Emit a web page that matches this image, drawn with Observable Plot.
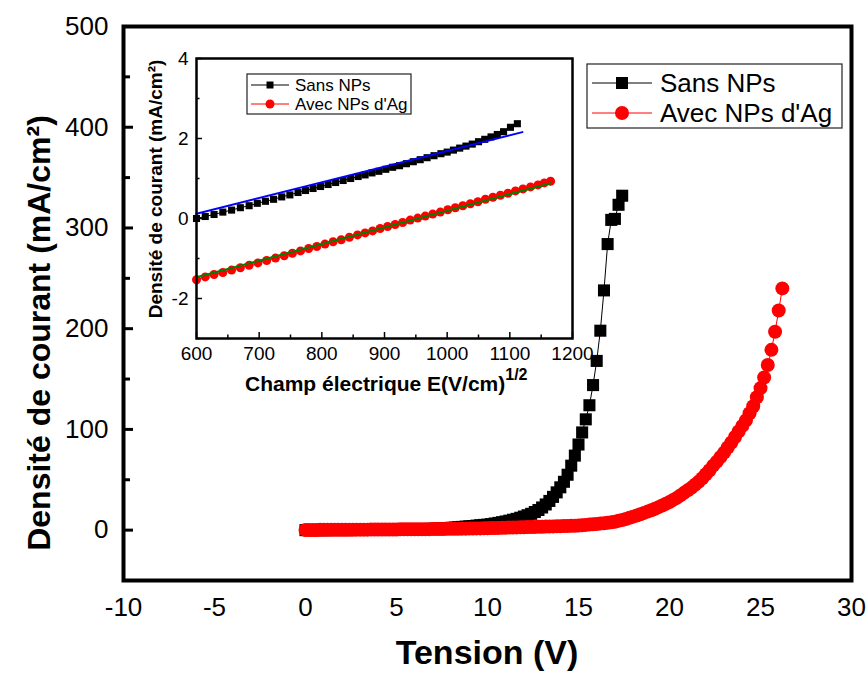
<!DOCTYPE html>
<html><head><meta charset="utf-8">
<script src="https://cdn.jsdelivr.net/npm/d3@7"></script>
<script src="https://cdn.jsdelivr.net/npm/@observablehq/plot@0.6"></script>
<style>
body{margin:0;background:#fff;}
#wrap{position:relative;width:867px;height:673px;background:#fff;}
#wrap svg{position:absolute;left:0;top:0;}
</style></head><body><div id="wrap"></div>
<script>
const FONT = "'Liberation Sans', Arial, Helvetica, sans-serif";

// ---------- main chart data : Tension (V) -> Densité de courant (mA/cm²) ----------
const sansV = [0,0.2,0.4,0.6,0.8,1,1.2,1.4,1.6,1.8,2,2.2,2.4,2.6,2.8,3,3.2,3.4,3.6,3.8,4,4.2,4.4,4.6,4.8,
  5,5.2,5.4,5.6,5.8,6,6.2,6.4,6.6,6.8,7,7.2,7.4,7.6,7.8,8,8.2,8.4,8.6,8.8,9,9.2,9.4,9.6,9.8,
  10,10.2,10.4,10.6,10.8,11,11.2,11.4,11.6,11.8,12,12.2,12.4,12.6,12.8,13,13.2,13.4,13.6,13.8,14,14.2,14.4,14.6,14.8,
  15,15.2,15.4,15.6,15.8,16,16.2,16.4,16.6,16.8,17,17.2,17.4];
const sansJ = [0,0,0,0,0,0,0,0.1,0.1,0.1,0.1,0.1,0.1,0.2,0.2,0.2,0.2,0.2,0.3,0.3,0.3,0.3,0.4,0.4,0.4,
  0.5,0.5,0.6,0.6,0.7,0.8,0.9,1.0,1.1,1.2,1.3,1.5,1.7,1.9,2.1,2.3,2.6,2.9,3.2,3.5,3.8,4.1,4.5,4.9,5.2,
  5.5,6.0,6.6,7.2,7.9,8.6,9.4,10.3,11.2,12.3,13.5,14.8,16.2,18.0,20.0,22.5,25.5,29,33,37.5,42.5,48,55,64,74,
  85,97,110,124,144,168,198,238,284,308,309,323,332];
const avecV = [0,0.2,0.4,0.6,0.8,1,1.2,1.4,1.6,1.8,2,2.2,2.4,2.6,2.8,3,3.2,3.4,3.6,3.8,4,4.2,4.4,4.6,4.8,
  5,5.2,5.4,5.6,5.8,6,6.2,6.4,6.6,6.8,7,7.2,7.4,7.6,7.8,8,8.2,8.4,8.6,8.8,9,9.2,9.4,9.6,9.8,
  10,10.2,10.4,10.6,10.8,11,11.2,11.4,11.6,11.8,12,12.2,12.4,12.6,12.8,13,13.2,13.4,13.6,13.8,14,14.2,14.4,14.6,14.8,
  15,15.2,15.4,15.6,15.8,16,16.2,16.4,16.6,16.8,17,17.2,17.4,17.6,17.8,18,18.2,18.4,18.6,18.8,19,19.2,19.4,19.6,19.8,
  20,20.2,20.4,20.6,20.8,21,21.2,21.4,21.6,21.8,22,22.2,22.4,22.6,22.8,23,23.2,23.4,23.6,23.8,24,24.2,24.4,24.6,24.8,
  25,25.2,25.4,25.6,25.8,26,26.2];
const avecJ = [0.2,0.2,0.2,0.2,0.3,0.3,0.3,0.3,0.3,0.4,0.4,0.4,0.4,0.4,0.5,0.5,0.5,0.5,0.6,0.6,0.6,0.6,0.7,0.7,0.7,
  0.7,0.8,0.8,0.8,0.9,0.9,0.9,1.0,1.0,1.0,1.1,1.1,1.2,1.2,1.3,1.3,1.4,1.4,1.5,1.5,1.6,1.6,1.7,1.7,1.8,
  1.9,2.0,2.1,2.2,2.3,2.4,2.5,2.6,2.7,2.8,2.9,3.0,3.1,3.2,3.3,3.4,3.5,3.6,3.7,3.8,3.9,4.0,4.1,4.3,4.4,
  4.6,4.9,5.2,5.5,5.8,6.1,6.5,6.9,7.3,7.8,8.4,9.2,10.1,11.1,12.2,13.4,14.6,15.8,17.1,18.4,19.8,21.2,22.8,24.4,26.2,
  28,30,32,34.5,37,39.5,42,45,48,51.5,55.5,59.5,64,68,72.5,77,82,87,92.5,98,103.5,109,116,123,132,
  141,151.5,164,179,197,218,240];
const mainXTicks = [-10,-5,0,5,10,15,20,25,30];
const mainYTicks = [0,100,200,300,400,500];
const mainYMinor = [50,150,250,350,450];

// ---------- inset data : Champ électrique E(V/cm)^1/2 -> ln(J) ----------
const insetSansX = [600,614,628,642,656,670,684,697,710,723,736,749,762,774,786,798,810,822,834,846,858,869,880,891,902,913,924,935,946,957,968,979,990,1000,1010,1020,1030,1040,1050,1060,1070,1080,1090,1101,1112];
const insetSansY = [0.00,0.05,0.10,0.16,0.21,0.27,0.32,0.38,0.43,0.48,0.54,0.59,0.65,0.70,0.75,0.80,0.85,0.90,0.95,1.00,1.05,1.09,1.14,1.18,1.23,1.28,1.32,1.37,1.42,1.47,1.52,1.57,1.62,1.66,1.71,1.76,1.81,1.86,1.92,1.98,2.04,2.10,2.17,2.28,2.37];
const insetAvecX = [600,614,628,642,656,670,684,698,712,726,740,753,766,779,792,805,818,831,844,857,869,881,893,905,917,929,941,953,965,977,989,1001,1013,1025,1037,1049,1061,1073,1085,1097,1109,1121,1133,1145,1155,1165];
const insetAvecY = [-1.53,-1.46,-1.40,-1.35,-1.29,-1.23,-1.17,-1.11,-1.05,-0.99,-0.93,-0.87,-0.81,-0.75,-0.70,-0.64,-0.58,-0.53,-0.47,-0.41,-0.36,-0.31,-0.25,-0.20,-0.15,-0.10,-0.04,0.01,0.06,0.11,0.16,0.22,0.27,0.32,0.37,0.42,0.48,0.53,0.58,0.63,0.69,0.74,0.79,0.84,0.89,0.93];
const fitSansX = [600,1120], fitSansY = [0.12,2.16];
const fitAvecX = [600,1165], fitAvecY = [-1.47,0.88];
const insetXTicks = [600,700,800,900,1000,1100,1200];
const insetXMinor = [650,750,850,950,1050,1150];
const insetYTicks = [-2,0,2,4];
const insetYMinor = [-3,-1,1,3];

const sans = sansV.map((v,i)=>({v, j:sansJ[i]}));
const avec = avecV.map((v,i)=>({v, j:avecJ[i]}));
const iSans = insetSansX.map((x,i)=>({x, y:insetSansY[i]}));
const iAvec = insetAvecX.map((x,i)=>({x, y:insetAvecY[i]}));
const fSans = fitSansX.map((x,i)=>({x, y:fitSansY[i]}));
const fAvec = fitAvecX.map((x,i)=>({x, y:fitAvecY[i]}));

const wrap = document.getElementById("wrap");

// ---------- main plot ----------
const mL=123, mR=16, mT=26, mB=93, W=867, H=673;
const fw = W-mL-mR;
const main = Plot.plot({
  width: W, height: H,
  marginLeft: mL, marginRight: mR, marginTop: mT, marginBottom: mB,
  style: {fontFamily: FONT, background: "transparent", overflow: "visible", color: "black"},
  x: {domain: [-10, 30]},
  y: {domain: [-50, 500]},
  marks: [
    Plot.axisX({ticks: mainXTicks, tickSize: 0, tickPadding: 17, fontSize: 26, tickFormat: d=>String(d), label: null}),
    Plot.axisY({ticks: mainYTicks, tickSize: 0, tickPadding: 15, fontSize: 26, tickFormat: d=>String(d), label: null}),
    Plot.tickY(mainYTicks, {y: d=>d, insetRight: fw-10, strokeWidth: 3}),
    Plot.tickY(mainYMinor, {y: d=>d, insetRight: fw-7, strokeWidth: 3}),
    Plot.line(sans, {x:"v", y:"j", stroke:"black", strokeWidth:1}),
    Plot.dot(sans, {x:"v", y:"j", symbol:"square", r:6.8, fill:"black"}),
    Plot.line(avec, {x:"v", y:"j", stroke:"red", strokeWidth:1}),
    Plot.dot(avec, {x:"v", y:"j", r:7, fill:"red"}),
    Plot.frame({strokeWidth: 4})
  ]
});
wrap.appendChild(main);

// ---------- inset plot ----------
const iLeft=140, iTop=40, iL=56, iT=18, iR=10, iB=60;
const iFW = 572-196, iFH = 338-58;
const inset = Plot.plot({
  width: iL+iFW+iR, height: iT+iFH+iB,
  marginLeft: iL, marginRight: iR, marginTop: iT, marginBottom: iB,
  style: {fontFamily: FONT, background: "transparent", overflow: "visible", color: "black"},
  x: {domain: [600, 1200]},
  y: {domain: [-3, 4]},
  marks: [
    Plot.axisX({ticks: insetXTicks, tickSize: 0, tickPadding: 8, fontSize: 19, tickFormat: d=>String(d), label: null}),
    Plot.axisY({ticks: insetYTicks, tickSize: 0, tickPadding: 8, fontSize: 19, tickFormat: d=>String(d), label: null}),
    Plot.tickX(insetXTicks, {x: d=>d, insetTop: iFH-6, strokeWidth: 1.5}),
    Plot.tickX(insetXMinor, {x: d=>d, insetTop: iFH-3.5, strokeWidth: 1.5}),
    Plot.tickY(insetYTicks, {y: d=>d, insetRight: iFW-6, strokeWidth: 1.5}),
    Plot.tickY(insetYMinor, {y: d=>d, insetRight: iFW-3.5, strokeWidth: 1.5}),
    Plot.line(iSans, {x:"x", y:"y", stroke:"black", strokeWidth:1}),
    Plot.dot(iSans, {x:"x", y:"y", symbol:"square", r:4, fill:"black"}),
    Plot.line(fSans, {x:"x", y:"y", stroke:"#0000ff", strokeWidth:2}),
    Plot.line(iAvec, {x:"x", y:"y", stroke:"red", strokeWidth:1}),
    Plot.dot(iAvec, {x:"x", y:"y", r:4.5, fill:"red"}),
    Plot.line(fAvec, {x:"x", y:"y", stroke:"#008000", strokeWidth:2}),
    Plot.frame({strokeWidth: 2.5})
  ]
});
inset.style.left = iLeft + "px";
inset.style.top = iTop + "px";
wrap.appendChild(inset);

// ---------- titles & legends overlay ----------
const ov = d3.select(wrap).append("svg")
  .attr("width", W).attr("height", H)
  .style("pointer-events", "none")
  .attr("font-family", FONT);

ov.append("text").attr("transform", "translate(39,333) rotate(-90)")
  .attr("text-anchor", "middle").attr("dominant-baseline", "central")
  .attr("font-size", 32).attr("font-weight", 700)
  .text("Densité de courant (mA/cm²)");
ov.append("text").attr("x", 487).attr("y", 664)
  .attr("text-anchor", "middle").attr("font-size", 34).attr("font-weight", 700)
  .text("Tension (V)");

ov.append("text").attr("transform", "translate(155,189) rotate(-90)")
  .attr("text-anchor", "middle").attr("dominant-baseline", "central")
  .attr("font-size", 19).attr("font-weight", 700)
  .text("Densité de courant (mA/cm²)");
const xl = ov.append("text").attr("x", 245).attr("y", 391)
  .attr("font-size", 21).attr("font-weight", 700);
xl.append("tspan").text("Champ électrique E(V/cm)");
xl.append("tspan").attr("dy", -11).attr("font-size", 16).text("1/2");

function legend(x, y, w, h, rows, lx0, lx1, tx, fs, sq, cr) {
  ov.append("rect").attr("x", x).attr("y", y).attr("width", w).attr("height", h)
    .attr("fill", "white").attr("stroke", "#222").attr("stroke-width", 1.2);
  rows.forEach(r => {
    ov.append("line").attr("x1", lx0).attr("x2", lx1).attr("y1", r.y).attr("y2", r.y)
      .attr("stroke", r.color).attr("stroke-width", 1);
    const mx = (lx0+lx1)/2;
    if (r.shape === "square") {
      ov.append("rect").attr("x", mx-sq/2).attr("y", r.y-sq/2).attr("width", sq).attr("height", sq).attr("fill", r.color);
    } else {
      ov.append("circle").attr("cx", mx).attr("cy", r.y).attr("r", cr).attr("fill", r.color);
    }
    ov.append("text").attr("x", tx).attr("y", r.y).attr("dominant-baseline", "central")
      .attr("font-size", fs).text(r.label);
  });
}
legend(587, 64, 255, 64,
  [{y:83, color:"black", shape:"square", label:"Sans NPs"},
   {y:113, color:"red", shape:"circle", label:"Avec NPs d'Ag"}],
  592, 652, 660, 26, 12, 7);
legend(247, 74, 164, 40,
  [{y:85, color:"black", shape:"square", label:"Sans NPs"},
   {y:104, color:"red", shape:"circle", label:"Avec NPs d'Ag"}],
  251, 289, 295, 17, 7, 4.5);
</script>
</body></html>
